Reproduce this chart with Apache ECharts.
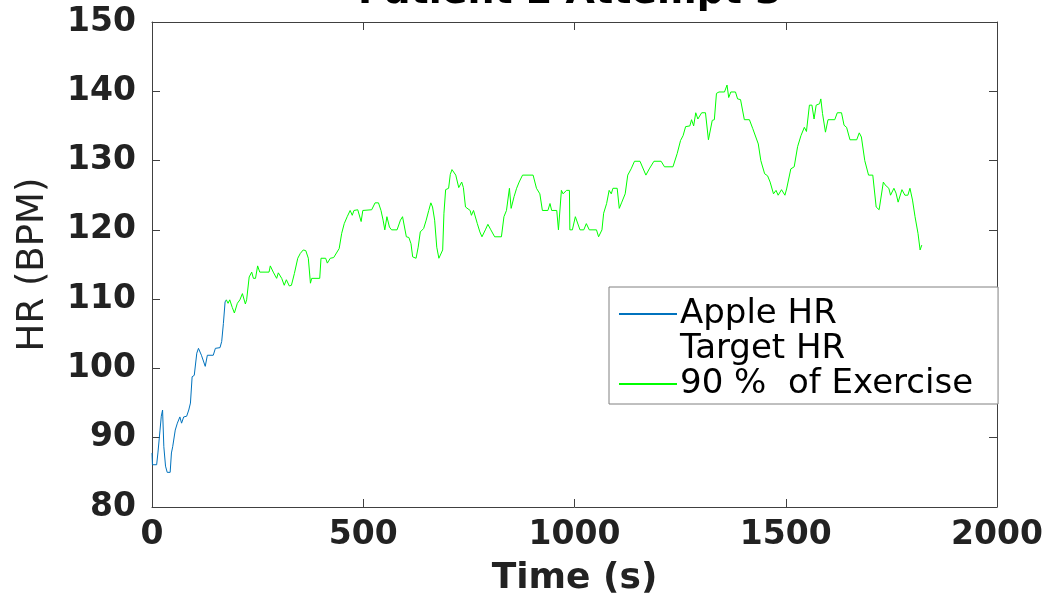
<!DOCTYPE html>
<html>
<head>
<meta charset="utf-8">
<script src="https://cdn.jsdelivr.net/npm/echarts@6/dist/echarts.min.js"></script>
<style>
html,body{margin:0;padding:0;background:#fff;}
#chart{width:1052px;height:605px;}
</style>
</head>
<body>
<div id="chart"></div>
<script>
const titleText = 'Patient 2 Attempt 3';
const xName = 'Time (s)';
const yName = 'HR (BPM)';
const seriesNames = ['Apple HR', 'Target HR', '90 %  of Exercise'];

const appleTime = [0,1,11,14,19,22,25,28,32,36,43,46,49,55,60,66,70,75,82,87,91,95,100,106,110,117,121,126,131,145,150,161,165,169,173,176];
const appleHR = [87.8,86.1,86.1,87.8,91.1,93.1,94.0,88.7,85.9,85.0,85.0,87.8,88.7,91.1,92.1,93.0,92.1,93.0,93.1,94.0,95.0,98.8,99.0,102.2,102.9,101.9,101.7,100.3,101.9,101.9,102.9,103.0,103.9,106.5,109.6,109.9];

const exerciseTime = [176,180,184,190,195,202,208,214,221,224,230,236,240,245,250,255,277,280,287,295,299,307,313,318,325,330,337,345,351,358,364,370,375,378,397,400,411,415,422,430,438,443,449,455,462,469,474,478,487,495,499,520,528,536,542,547,551,556,562,567,580,588,593,597,602,608,613,617,625,630,635,643,649,655,660,664,669,674,679,683,688,691,695,702,706,710,719,726,733,737,742,753,756,761,770,776,781,789,795,802,811,827,833,839,846,850,857,863,869,877,902,910,918,924,937,942,946,958,962,969,973,981,988,989,995,1002,1006,1013,1022,1028,1035,1052,1057,1065,1069,1076,1082,1087,1091,1101,1106,1112,1120,1126,1134,1142,1155,1169,1177,1188,1205,1213,1233,1243,1251,1257,1263,1273,1277,1282,1287,1292,1301,1310,1317,1321,1326,1331,1336,1342,1355,1361,1365,1370,1381,1386,1393,1402,1414,1422,1435,1441,1450,1457,1463,1471,1477,1482,1490,1498,1502,1512,1520,1528,1536,1544,1549,1556,1562,1567,1572,1580,1583,1587,1594,1600,1616,1622,1632,1638,1644,1652,1668,1674,1679,1687,1696,1706,1714,1721,1731,1735,1744,1748,1756,1761,1766,1775,1782,1789,1794,1800,1806,1813,1818,1822];
const exerciseHR = [109.9,109.4,109.9,108.8,108.0,109.4,109.9,110.8,109.3,109.9,113.2,113.9,113.0,113.0,114.8,113.9,113.9,114.8,113.9,113.0,113.8,113.0,112.0,112.8,111.9,112.0,113.7,115.9,116.6,117.1,117.0,115.9,112.3,113.0,113.0,115.9,115.9,115.2,115.9,116.0,116.8,117.3,119.5,120.9,121.9,122.8,122.1,122.8,122.9,121.2,122.8,122.9,123.9,123.9,122.8,121.4,120.0,121.9,120.4,120.0,120.0,121.4,121.9,121.7,119.0,118.9,118.0,116.1,115.9,117.5,119.7,120.2,121.4,122.8,123.9,123.3,121.4,117.5,115.9,116.0,117.1,122.4,125.8,126.0,128.0,128.7,127.9,126.1,126.9,126.1,123.3,122.8,122.1,122.8,120.9,119.7,119.0,120.0,120.8,120.0,119.0,119.0,121.9,122.8,126.0,123.1,124.8,126.0,126.9,127.9,127.9,126.0,125.2,122.8,122.8,123.8,122.8,122.8,120.0,125.7,125.2,125.7,125.7,120.0,120.0,121.9,121.9,120.0,120.0,120.9,120.0,120.0,119.0,120.0,122.4,123.8,125.7,125.2,126.0,126.0,123.1,124.0,125.2,127.9,128.8,129.9,129.9,127.9,128.8,129.9,129.9,129.1,129.1,131.0,132.9,133.6,134.9,135.0,135.9,135.0,136.9,136.0,136.9,136.9,133.0,133.0,135.8,135.9,139.7,139.9,139.9,140.9,139.1,139.9,139.9,138.9,138.8,135.9,135.9,134.6,132.4,130.0,128.1,127.8,126.9,125.2,125.7,125.0,125.8,125.0,125.9,128.8,129.1,132.0,133.6,134.8,134.2,138.0,138.0,136.0,138.0,138.2,138.9,136.8,134.1,135.9,135.9,136.9,136.9,135.1,134.8,133.0,133.0,134.0,133.4,130.0,127.9,127.9,123.3,122.9,126.9,126.5,126.0,125.0,126.0,125.3,124.0,125.8,125.0,125.0,126.0,124.3,121.9,119.5,117.1,117.8];

const xTicks = {min: 0, max: 2000, interval: 500};
const yTicks = {min: 80, max: 150, interval: 10};

const zip = (a, b) => a.map((v, i) => [v, b[i]]);

const FONT = 'DejaVu Sans';
const axisColor = '#404040';
const textColor = '#222222';

const baseX = {
  type: 'value', min: xTicks.min, max: xTicks.max, interval: xTicks.interval,
  splitLine: {show: false},
  axisLine: {show: true, onZero: false, lineStyle: {color: axisColor, width: 1}},
  axisTick: {show: true, inside: true, length: 8, lineStyle: {color: axisColor}}
};
const baseY = {
  type: 'value', min: yTicks.min, max: yTicks.max, interval: yTicks.interval,
  splitLine: {show: false},
  axisLine: {show: true, onZero: false, lineStyle: {color: axisColor, width: 1}},
  axisTick: {show: true, inside: true, length: 8, lineStyle: {color: axisColor}}
};

const chart = echarts.init(document.getElementById('chart'), null, {renderer: 'canvas'});
chart.setOption({
  animation: false,
  backgroundColor: '#ffffff',
  title: {
    text: titleText,
    left: 358, top: -26, padding: 0,
    textStyle: {fontFamily: FONT, fontSize: 38, fontWeight: 'bold', color: '#000'}
  },
  grid: {left: 152, right: 55, top: 22, bottom: 98, containLabel: false},
  xAxis: [
    Object.assign({}, baseX, {
      position: 'bottom',
      name: xName, nameLocation: 'middle', nameGap: 54,
      nameTextStyle: {fontFamily: FONT, fontSize: 36, fontWeight: 'bold', color: textColor},
      axisLabel: {fontFamily: FONT, fontSize: 33, fontWeight: 'bold', color: textColor, margin: 12,
        formatter: v => String(v)}
    }),
    Object.assign({}, baseX, {position: 'top', axisLabel: {show: false}})
  ],
  yAxis: [
    Object.assign({}, baseY, {
      position: 'left',
      name: yName, nameLocation: 'middle', nameGap: 100,
      nameTextStyle: {fontFamily: FONT, fontSize: 37, fontWeight: 'normal', color: textColor},
      axisLabel: {fontFamily: FONT, fontSize: 33, fontWeight: 'bold', color: textColor, margin: 16,
        formatter: v => String(v)}
    }),
    Object.assign({}, baseY, {position: 'right', axisLabel: {show: false}})
  ],
  legend: {
    orient: 'vertical',
    left: 609, top: 287,
    padding: [10, 25, 3, 9],
    itemGap: 1,
    itemWidth: 58, itemHeight: 12,
    backgroundColor: '#ffffff',
    borderColor: '#808080', borderWidth: 1,
    borderRadius: 0,
    itemStyle: {opacity: 0},
    textStyle: {fontFamily: FONT, fontSize: 34, color: '#000', lineHeight: 34, padding: [0, 0, 0, -2]},
    data: seriesNames
  },
  series: [
    {
      name: seriesNames[0], type: 'line', xAxisIndex: 0, yAxisIndex: 0,
      data: zip(appleTime, appleHR),
      symbol: 'none', showSymbol: false,
      lineStyle: {color: '#0072BD', width: 1}, itemStyle: {color: '#0072BD'}
    },
    {
      name: seriesNames[1], type: 'line', xAxisIndex: 0, yAxisIndex: 0,
      data: [],
      symbol: 'none',
      lineStyle: {color: 'rgba(0,0,0,0)', width: 1}, itemStyle: {color: 'rgba(0,0,0,0)'}
    },
    {
      name: seriesNames[2], type: 'line', xAxisIndex: 0, yAxisIndex: 0,
      data: zip(exerciseTime, exerciseHR),
      symbol: 'none', showSymbol: false,
      lineStyle: {color: '#00FF00', width: 1}, itemStyle: {color: '#00FF00'}
    }
  ]
});
</script>
</body>
</html>
